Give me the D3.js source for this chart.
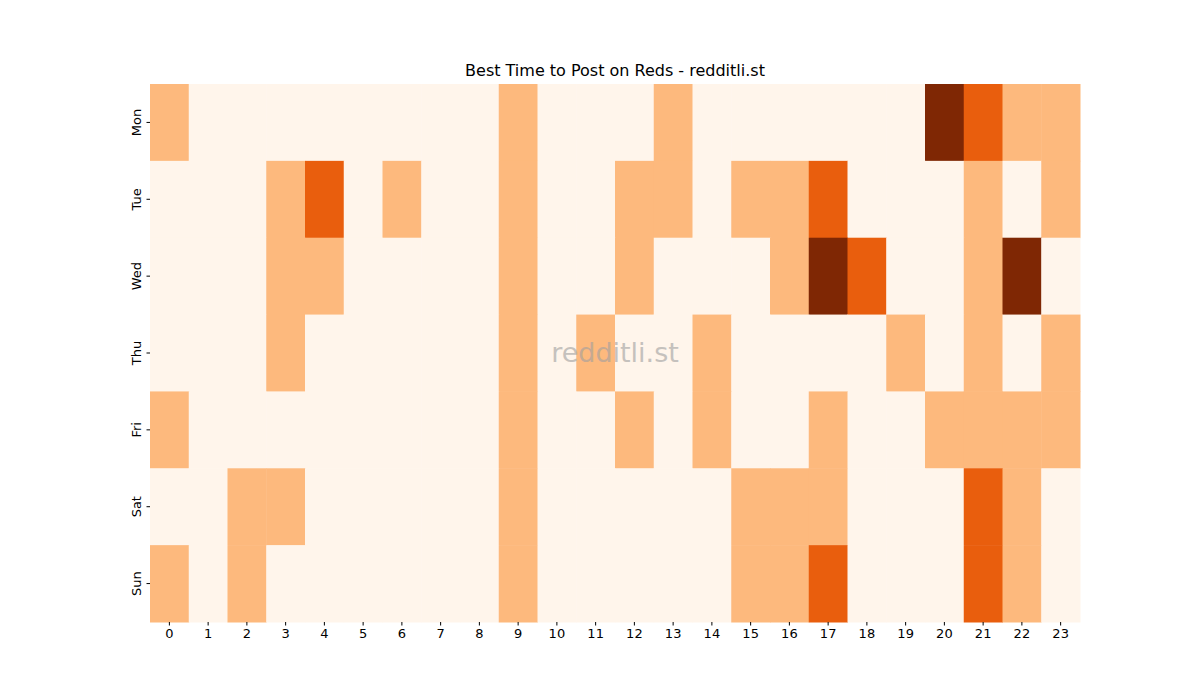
<!DOCTYPE html>
<html><head><meta charset="utf-8">
<script src="https://cdn.jsdelivr.net/npm/d3@7"></script>
<style>body{margin:0;background:#fff;font-family:"DejaVu Sans",sans-serif}</style>
</head><body><svg id="c" width="1200" height="700"></svg>
<script>
const days = ["Mon","Tue","Wed","Thu","Fri","Sat","Sun"];
const hours = d3.range(24).map(String);
const Mon = [1,0,0,0,0,0,0,0,0,1,0,0,0,1,0,0,0,0,0,0,3,2,1,1];
const Tue = [0,0,0,1,2,0,1,0,0,1,0,0,1,1,0,1,1,2,0,0,0,1,0,1];
const Wed = [0,0,0,1,1,0,0,0,0,1,0,0,1,0,0,0,1,3,2,0,0,1,3,0];
const Thu = [0,0,0,1,0,0,0,0,0,1,0,1,0,0,1,0,0,0,0,1,0,1,0,1];
const Fri = [1,0,0,0,0,0,0,0,0,1,0,0,1,0,1,0,0,1,0,0,1,1,1,1];
const Sat = [0,0,1,1,0,0,0,0,0,1,0,0,0,0,0,1,1,1,0,0,0,2,1,0];
const Sun = [1,0,1,0,0,0,0,0,0,1,0,0,0,0,0,1,1,2,0,0,0,2,1,0];
const rows = [Mon,Tue,Wed,Thu,Fri,Sat,Sun];
const colors = ["#fff5eb","#fdb97d","#e95e0d","#7f2704"];

const svg = d3.select("#c");
const L=150,R=1080,T=84,B=622;
const x = d3.scaleBand().domain(hours).range([L,R]);
const y = d3.scaleBand().domain(days).range([T,B]);
const cells = [];
rows.forEach((r,i)=>r.forEach((v,h)=>cells.push({d:days[i],h:String(h),v})));
svg.selectAll("rect.c").data(cells).join("rect")
  .attr("x",d=>x(d.h)).attr("y",d=>y(d.d))
  .attr("width",x.bandwidth()+0.5).attr("height",y.bandwidth()+0.5)
  .attr("fill",d=>colors[d.v]);
const ax = svg.append("g").attr("transform",`translate(0,${B})`).call(d3.axisBottom(x).tickSizeOuter(0).tickSize(3.5));
const ay = svg.append("g").attr("transform",`translate(${L},0)`).call(d3.axisLeft(y).tickSizeOuter(0).tickSize(3.5));
[ax,ay].forEach(a=>{a.select(".domain").remove();a.selectAll("text").attr("font-size",13).attr("font-family","DejaVu Sans").attr("fill","#000");});
ay.selectAll("text").attr("transform","rotate(-90)").attr("text-anchor","middle").attr("x",0).attr("dy",0).attr("y",-9);
svg.append("text").attr("x",(L+R)/2).attr("y",76).attr("text-anchor","middle").attr("font-size",16).text("Best Time to Post on Reds - redditli.st");
svg.append("text").attr("x",615).attr("y",362).attr("text-anchor","middle").attr("font-size",27).attr("fill","#a0a0a0").attr("opacity",0.6).text("redditli.st");
</script></body></html>
